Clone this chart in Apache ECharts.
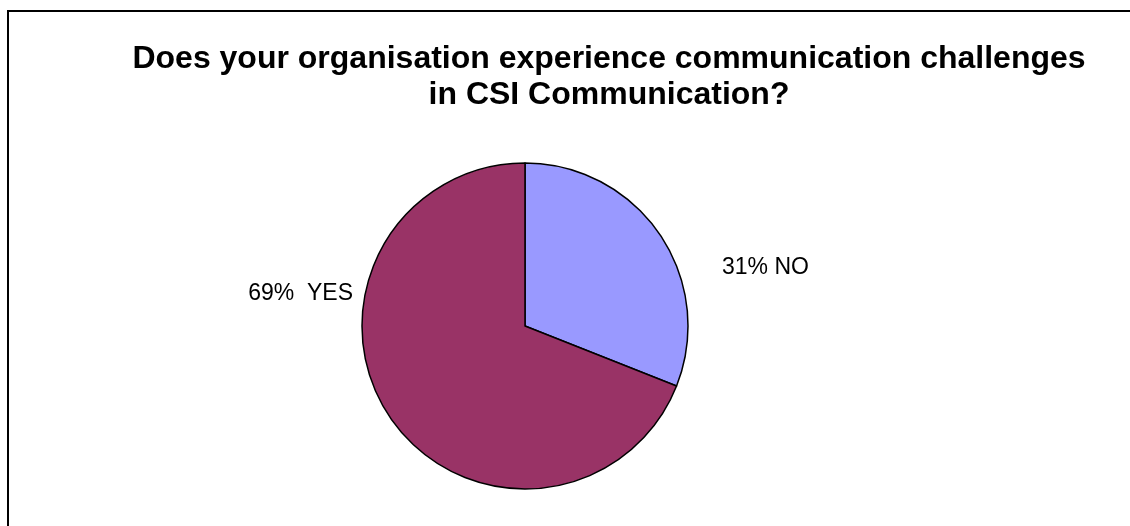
<!DOCTYPE html>
<html><head><meta charset="utf-8">
<script src="https://cdn.jsdelivr.net/npm/echarts@6/dist/echarts.min.js"></script>
<style>html,body{margin:0;padding:0;background:#fff}#c{width:1130px;height:526px}</style>
</head><body><div id="c"></div>
<script>
const titleText = "Does your organisation experience communication challenges\nin CSI Communication?";
const categories = ["NO", "YES"];
const values = [31, 69];
const labelTexts = ["31% NO", "69%  YES"];
const colors = ["#9999FF", "#993366"];

const chart = echarts.init(document.getElementById('c'), null, {renderer: 'canvas'});
chart.setOption({
  backgroundColor: '#fff',
  animation: false,
  graphic: [{
    type: 'rect', shape: {x: 8, y: 11, width: 1202, height: 600},
    style: {fill: 'none', stroke: '#000', lineWidth: 2}, silent: true
  }, {
    type: 'text', x: 609, y: 41, silent: true,
    style: {
      text: titleText, align: 'center', verticalAlign: 'top',
      font: 'bold 32px "Liberation Sans", Arial', fill: '#000', lineHeight: 36
    }
  }],
  series: [{
    type: 'pie',
    center: [525, 326],
    radius: 163,
    startAngle: 90,
    clockwise: true,
    data: categories.map((c, i) => ({name: c, value: values[i], itemStyle: {color: colors[i]}})),
    itemStyle: {borderColor: '#000', borderWidth: 1.5},
    label: {
      show: true, position: 'outside',
      formatter: p => labelTexts[p.dataIndex],
      fontFamily: 'Liberation Sans, Arial', fontSize: 23, color: '#000'
    },
    labelLine: {show: false},
    labelLayout: function (p) {
      if (p.dataIndex === 0) return {x: 722, y: 268, align: 'left', verticalAlign: 'middle'};
      return {x: 353, y: 294, align: 'right', verticalAlign: 'middle'};
    },
    emphasis: {disabled: true}
  }]
});
</script></body></html>
